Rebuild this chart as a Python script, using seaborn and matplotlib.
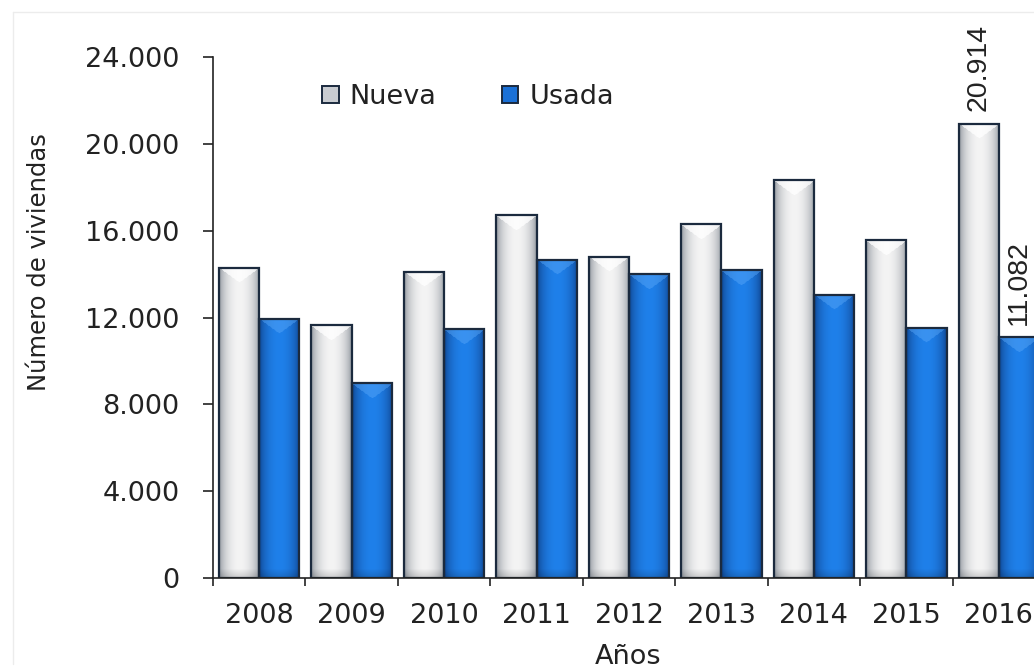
import numpy as np
import pandas as pd
import matplotlib
matplotlib.use("Agg")
import matplotlib.pyplot as plt
import seaborn as sns
from matplotlib.colors import to_rgb
from matplotlib.patches import Patch
from matplotlib.lines import Line2D
from matplotlib.ticker import FuncFormatter, FixedLocator

# Compraventa de viviendas por tipo y año
anios = ["2008", "2009", "2010", "2011", "2012", "2013", "2014", "2015", "2016"]
nueva = [14300, 11650, 14100, 16700, 14800, 16300, 18330, 15570, 20914]
usada = [11950, 8980, 11470, 14650, 14000, 14180, 13040, 11520, 11082]
tipos = ["Nueva", "Usada"]
anios_etiquetados = ["2016"]
yticks = [0, 4000, 8000, 12000, 16000, 20000, 24000]

colores = {"Nueva": "#c9ccd1", "Usada": "#1a70d6"}
sombras = {"Nueva": ("#6f7782", "#f4f4f4", "#ffffff", 0.75),
           "Usada": ("#0a3070", "#1f80ea", "#5aa8f8", 0.45)}
borde = "#1b2a3e"
texto = "#222222"

sns.set_theme(style="white")
plt.rcParams["font.family"] = ["DejaVu Sans"]

fig = plt.figure(figsize=(10.34, 6.71), dpi=100)
fig.patch.set_facecolor("white")
ax = fig.add_axes([213 / 1034, 93 / 671, 832 / 1034, 521 / 671])

df = pd.DataFrame({
    "Año": anios * 2,
    "Viviendas": nueva + usada,
    "Tipo": ["Nueva"] * len(anios) + ["Usada"] * len(anios),
})

sns.barplot(data=df, x="Año", y="Viviendas", hue="Tipo", hue_order=tipos,
            palette=colores, width=0.87, gap=0, saturation=1,
            edgecolor=borde, linewidth=1.6, legend=False, ax=ax)

ax.set_ylim(0, 24000)
ax.set_xlim(-0.5, len(anios) - 0.5)

# Leyenda con cuadros sólidos
handles = [Patch(facecolor=colores[t], edgecolor=borde, linewidth=1.4) for t in tipos]
fig.legend(handles, tipos, loc="center left",
           bbox_to_anchor=(322 / 1034, 1 - 97 / 671), bbox_transform=fig.transFigure,
           ncol=2, frameon=False, fontsize=19.5, handlelength=0.62, handleheight=0.62,
           handletextpad=0.4, columnspacing=2.4, borderpad=0, borderaxespad=0,
           labelcolor=texto)

# Relleno sombreado (cilíndrico con bisel superior) dentro de cada barra
fig.canvas.draw()
for tipo, cont in zip(tipos, ax.containers):
    oscuro, claro, brillo = (np.array(to_rgb(c)) for c in sombras[tipo][:3])
    mezcla = sombras[tipo][3]
    for bar in cont:
        x0, w, h = bar.get_x(), bar.get_width(), bar.get_height()
        p0 = ax.transData.transform((x0, 0))
        p1 = ax.transData.transform((x0 + w, h))
        wpx = max(int(round(p1[0] - p0[0])), 2)
        hpx = max(int(round(p1[1] - p0[1])), 2)
        u = (np.arange(wpx) + 0.5) / wpx
        perfil = np.sin(np.pi * u) ** 0.45
        img = oscuro[None, None, :] + (claro - oscuro)[None, None, :] * perfil[None, :, None]
        img = np.repeat(img, hpx, axis=0)
        filas = np.arange(hpx)[:, None]
        prof = 15 * (1 - np.abs(2 * u - 1))[None, :]
        bisel = (filas < prof)
        img[bisel] = (1 - mezcla) * img[bisel] + mezcla * brillo
        inferior = np.clip((filas - (hpx - 10)) / 10, 0, 1)[..., None]
        img = img * (1 - 0.18 * inferior)
        im = ax.imshow(np.clip(img, 0, 1), extent=[x0, x0 + w, 0, h],
                       aspect="auto", origin="upper", interpolation="bilinear", zorder=1)
        im.set_clip_path(bar)
        bar.set_facecolor("none")
        bar.set_zorder(2)

ax.set_ylim(0, 24000)
ax.set_xlim(-0.5, len(anios) - 0.5)

# Etiquetas de valor
valores = {"Nueva": nueva, "Usada": usada}
for tipo, cont in zip(tipos, ax.containers):
    for anio, bar, v in zip(anios, cont, valores[tipo]):
        if anio in anios_etiquetados:
            ax.annotate(f"{v:,}".replace(",", "."),
                        xy=(bar.get_x() + bar.get_width() / 2, v),
                        xytext=(0, 9), textcoords="offset points",
                        rotation=90, ha="center", va="bottom",
                        fontsize=20.5, color=texto,
                        fontfamily=["Liberation Sans", "DejaVu Sans"],
                        annotation_clip=False)

# Ejes
for lado in ["top", "right"]:
    ax.spines[lado].set_visible(False)
for lado in ["left", "bottom"]:
    ax.spines[lado].set_color("#222222")
    ax.spines[lado].set_linewidth(1.2)

ax.yaxis.set_major_locator(FixedLocator(yticks))
ax.yaxis.set_major_formatter(FuncFormatter(lambda v, p: f"{v:,.0f}".replace(",", ".")))
ax.tick_params(axis="y", direction="out", length=7.2, width=1.2, color="#222222",
               pad=17, labelsize=19.5, labelcolor=texto, left=True)

ax.set_xticks(range(len(anios)))
ax.set_xticklabels(anios)
ax.xaxis.set_minor_locator(FixedLocator(np.arange(-0.5, len(anios), 1.0)))
ax.tick_params(axis="x", which="major", length=0, pad=18, labelsize=19.5, labelcolor=texto)
ax.tick_params(axis="x", which="minor", direction="out", length=5.8, width=1.2,
               color="#222222", bottom=True)

ax.set_xlabel("Años", fontsize=19.5, color=texto)
ax.xaxis.set_label_coords((628 - 213) / 832, -(657 - 578) / 521)
ax.xaxis.label.set_verticalalignment("center")
ax.set_ylabel("Número de viviendas", fontsize=17.5, color=texto)
ax.yaxis.set_label_coords((51 - 213) / 832, (578 - 262) / 521)

# Marco tenue exterior
fig.add_artist(Line2D([13 / 1034, 13 / 1034], [1 - 12 / 671, 1 - 664 / 671],
                      transform=fig.transFigure, color="#ececec", lw=1))
fig.add_artist(Line2D([13 / 1034, 1.0], [1 - 12 / 671, 1 - 12 / 671],
                      transform=fig.transFigure, color="#ececec", lw=1))

fig.savefig("out.png", dpi=100, facecolor="white")
